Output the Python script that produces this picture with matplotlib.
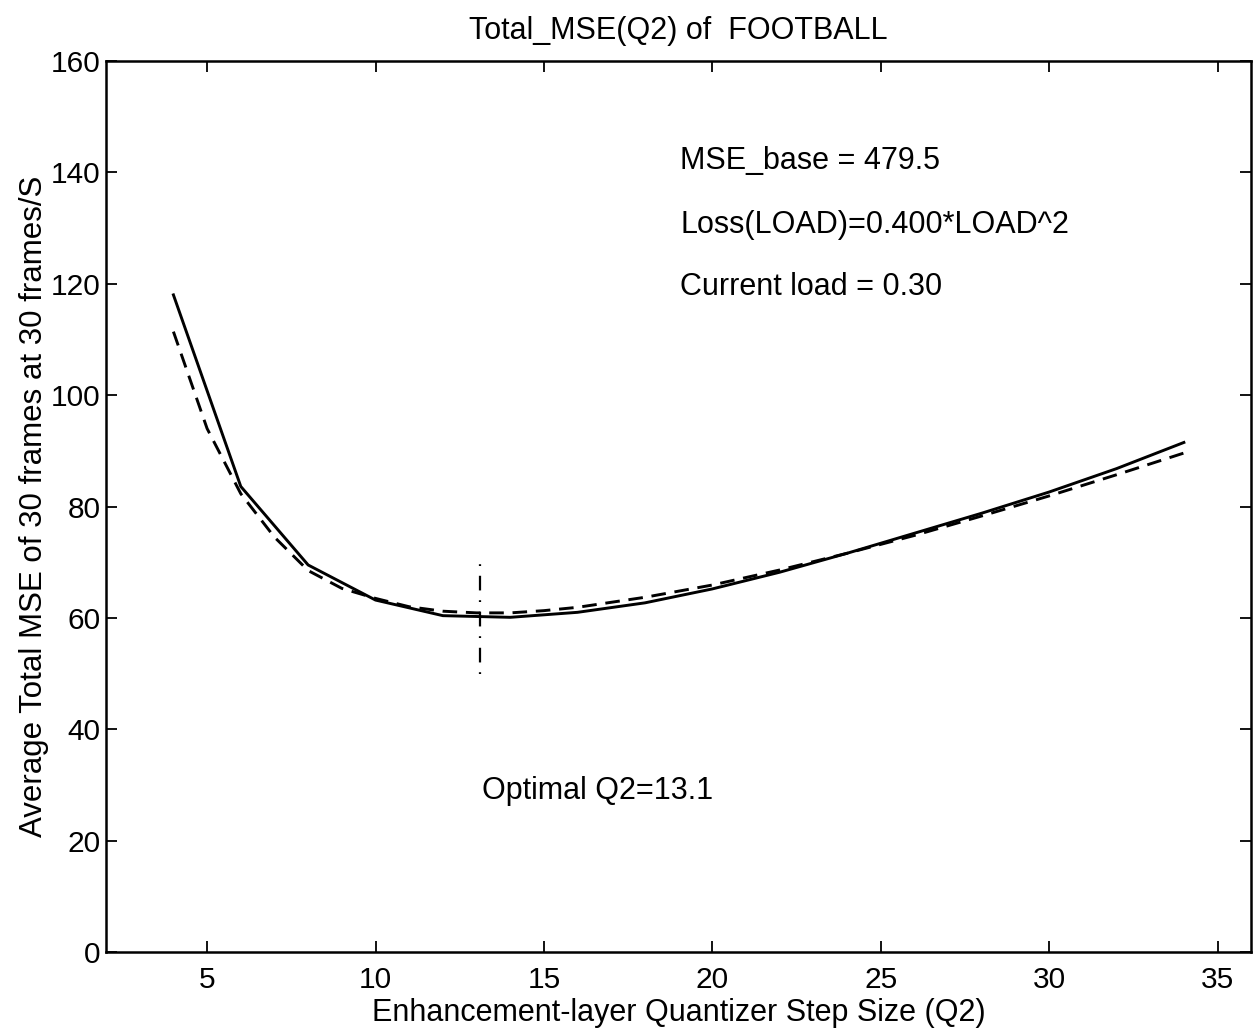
import matplotlib
matplotlib.use("Agg")
import matplotlib.pyplot as plt

plt.rcParams['font.family'] = ['Liberation Sans', 'DejaVu Sans']

q2_solid = [4, 6, 8, 10, 12, 14, 16, 18, 20, 22, 24, 26, 28, 30, 32, 34]
mse_solid = [118.0, 83.6, 69.5, 63.2, 60.4, 60.1, 61.0, 62.7, 65.2, 68.2, 71.6, 75.2, 78.8, 82.6, 86.8, 91.5]

q2_fit = [4, 5, 6, 7, 8, 9, 10, 11, 12, 13, 14, 15, 16, 18, 20, 22, 24, 26, 28, 30, 32, 34]
mse_fit = [111.4, 94.0, 82.3, 74.5, 68.5, 65.3, 63.5, 62.0, 61.2, 60.9, 60.9, 61.3, 61.9, 63.7, 65.9, 68.6,
           71.6, 74.8, 78.3, 81.9, 85.7, 89.6]

q2_opt = 13.1
opt_range = [50, 70]

title = "Total_MSE(Q2) of  FOOTBALL"
xlabel = "Enhancement-layer Quantizer Step Size (Q2)"
ylabel = "Average Total MSE of 30 frames at 30 frames/S"
notes = ["MSE_base = 479.5", "Loss(LOAD)=0.400*LOAD^2", "Current load = 0.30"]
note_y = [142, 130.5, 119.5]
opt_text = "Optimal Q2=13.1"

fig = plt.figure(figsize=(12.55, 10.30), dpi=100)
ax = fig.add_axes([0.0845, 0.0757, 0.9125, 0.8651])

ax.plot(q2_solid, mse_solid, color='black', lw=2.1)
ax.plot(q2_fit, mse_fit, color='black', lw=2.1, dashes=(5, 3))
ax.plot([q2_opt, q2_opt], opt_range, color='black', lw=1.6, dashes=(0.8, 4.4, 6.6, 4.4))

for t, yy in zip(notes, note_y):
    ax.text(19.05, yy, t, fontsize=22, va='center', ha='left')
ax.text(13.15, 29, opt_text, fontsize=22, va='center', ha='left')

ax.set_xlim(2, 36)
ax.set_ylim(0, 160)
ax.set_xticks([5, 10, 15, 20, 25, 30, 35])
ax.set_yticks(range(0, 161, 20))
ax.tick_params(direction='in', top=True, right=True, length=8, width=1.3, labelsize=21.5)
ax.tick_params(axis='x', pad=10)
ax.tick_params(axis='y', pad=4)
for s in ax.spines.values():
    s.set_linewidth(1.8)

ax.set_title(title, fontsize=22, pad=16)
ax.set_xlabel(xlabel, fontsize=22, labelpad=3)
ax.set_ylabel(ylabel, fontsize=22.5, labelpad=1)

fig.savefig("out.png", dpi=100)
